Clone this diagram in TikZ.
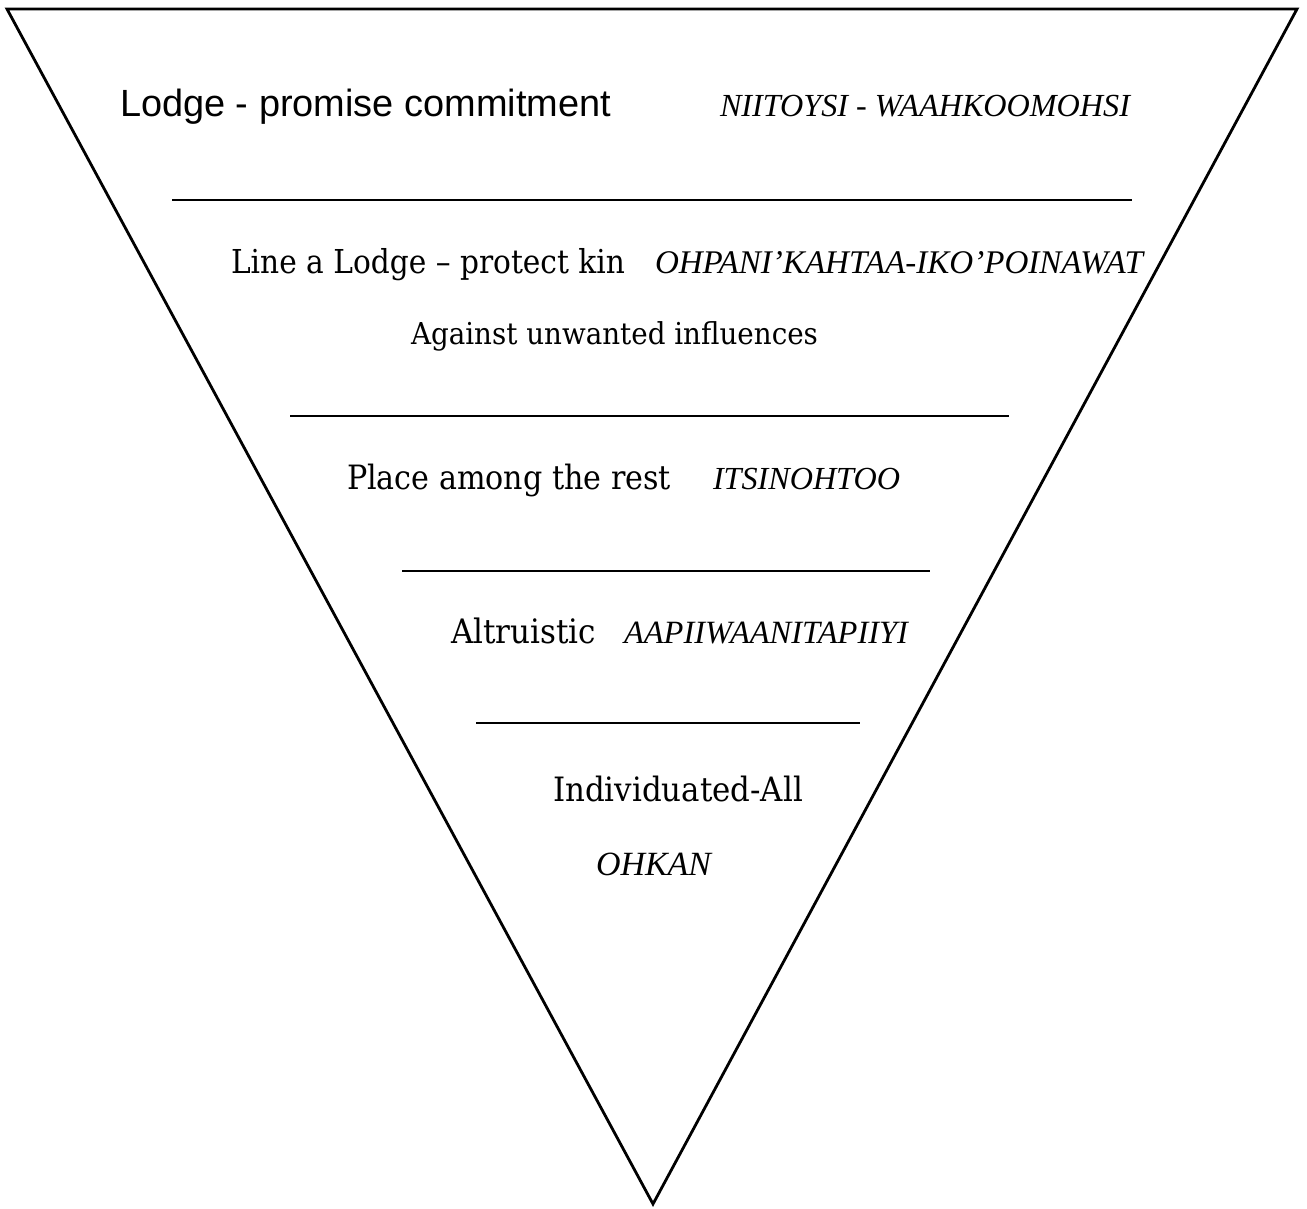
\documentclass[tikz,border=0pt]{standalone}
\usepackage{fontspec}
\newfontfamily\arialf{Liberation Sans}
\newfontfamily\timesf{Liberation Serif}
\newfontfamily\bookf[FakeStretch=0.92]{DejaVu Serif}
\newfontfamily\bookc[FakeStretch=0.9]{DejaVu Serif}
\newlength\fitlen
\newcommand\fitto[3]{\settowidth\fitlen{#2\fontsize{10pt}{12pt}\selectfont #3}%
  \pgfmathsetmacro\fitsz{10*#1/\fitlen}%
  #2\fontsize{\fitsz pt}{\fitsz pt}\selectfont #3}
\tikzset{
  lbl/.style={inner sep=0pt, outer sep=0pt, anchor=base west},
  edge/.style={line width=2.8pt, line join=miter, black},
  sep/.style={line width=2.2pt, black}
}
\begin{document}
\begin{tikzpicture}[x=1pt,y=-1pt]
\useasboundingbox (0,0) rectangle (1307,1209);
% triangle
\coordinate (A) at (7,9);
\coordinate (B) at (1297,9);
\coordinate (C) at (653,1204);
\draw[edge] (A) -- (B) -- (C) -- cycle;
% separators
\coordinate (l1a) at (172,200); \coordinate (l1b) at (1132,200);
\coordinate (l2a) at (290,416); \coordinate (l2b) at (1009,416);
\coordinate (l3a) at (402,571); \coordinate (l3b) at (930,571);
\coordinate (l4a) at (476,723); \coordinate (l4b) at (860,723);
\draw[sep] (l1a) -- (l1b);
\draw[sep] (l2a) -- (l2b);
\draw[sep] (l3a) -- (l3b);
\draw[sep] (l4a) -- (l4b);
% texts
\node[lbl] (t1) at (120,117) {\fitto{491}{\arialf}{Lodge - promise commitment}};
\node[lbl] (t1b) at (720,117) {\fitto{410}{\timesf\itshape}{NIITOYSI - WAAHKOOMOHSI}};
\node[lbl] (t2) at (231,273) {\fitto{394}{\bookc}{Line a Lodge – protect kin}};
\node[lbl] (t2b) at (655,273) {\fitto{488}{\timesf\itshape}{OHPANI’KAHTAA-IKO’POINAWAT}};
\node[lbl] (t3) at (411,344) {\fitto{407}{\bookf}{Against unwanted influences}};
\node[lbl] (t4) at (347,489) {\fitto{324}{\bookc}{Place among the rest}};
\node[lbl] (t4b) at (713,489) {\fitto{187}{\timesf\itshape}{ITSINOHTOO}};
\node[lbl] (t5) at (451,643) {\fitto{145}{\bookf}{Altruistic}};
\node[lbl] (t5b) at (624,643) {\fitto{284}{\timesf\itshape}{AAPIIWAANITAPIIYI}};
\node[lbl] (t6) at (553,801) {\fitto{250}{\bookf}{Individuated-All}};
\node[lbl] (t6b) at (596,875) {\fitto{115}{\timesf\itshape}{OHKAN}};
\end{tikzpicture}
\end{document}
